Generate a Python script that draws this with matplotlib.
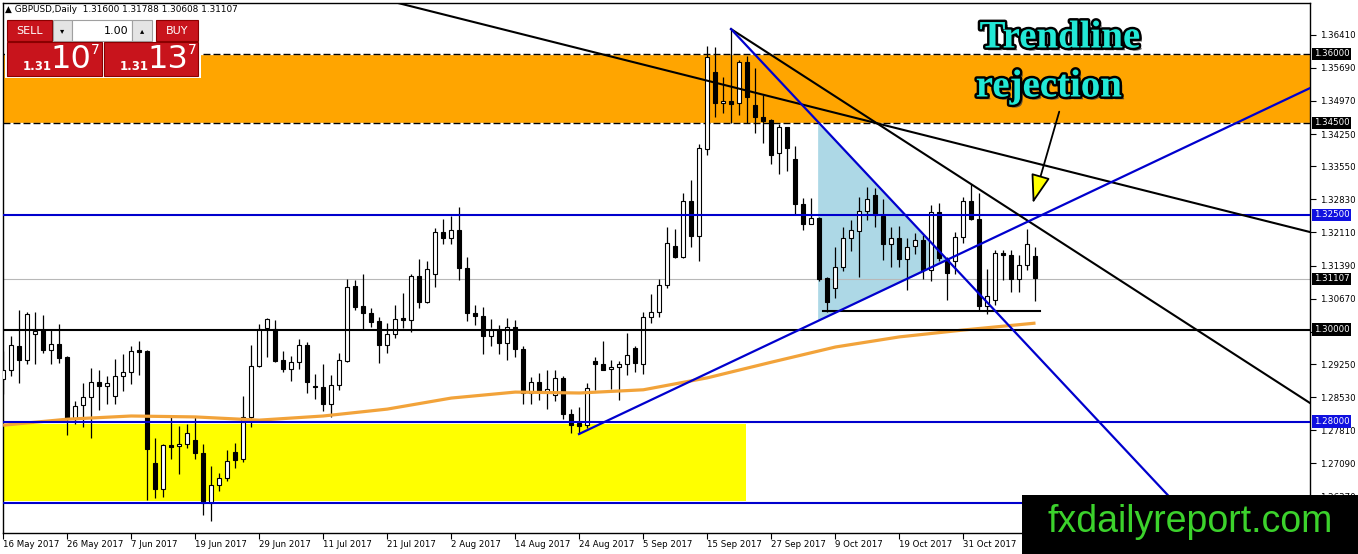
import matplotlib
matplotlib.use('Agg')
import matplotlib.pyplot as plt
import matplotlib.patheffects as pe
from matplotlib.patches import Rectangle, Polygon, FancyArrowPatch
from matplotlib.transforms import blended_transform_factory

W, H = 1358, 554

# ---------------- data (GBPUSD daily) ----------------
opens = [1.2892, 1.2912, 1.2964, 1.2934, 1.2991, 1.2998, 1.2956, 1.2969, 1.2940, 1.2805,
         1.2836, 1.2853, 1.2886, 1.2877, 1.2855, 1.2899, 1.2908, 1.2956, 1.2954, 1.2709,
         1.2653, 1.2748, 1.2746, 1.2751, 1.2760, 1.2731, 1.2623, 1.2663, 1.2677, 1.2733,
         1.2718, 1.2809, 1.2921, 1.3004, 1.3001, 1.2934, 1.2914, 1.2930, 1.2967, 1.2877,
         1.2876, 1.2839, 1.2879, 1.2932, 1.3095, 1.3052, 1.3036, 1.3018, 1.2967, 1.2991,
         1.3024, 1.3021, 1.3117, 1.3060, 1.3121, 1.3211, 1.3200, 1.3217, 1.3134, 1.3036,
         1.3029, 1.2985, 1.2998, 1.2970, 1.3006, 1.2957, 1.2863, 1.2885, 1.2865, 1.2858,
         1.2894, 1.2816, 1.2796, 1.2793, 1.2932, 1.2925, 1.2914, 1.2919, 1.2925, 1.2959,
         1.2925, 1.3027, 1.3038, 1.3096, 1.3181, 1.3158, 1.3279, 1.3203, 1.3392, 1.3561,
         1.3492, 1.3497, 1.3492, 1.3581, 1.3488, 1.3463, 1.3456, 1.3383, 1.3440, 1.3370,
         1.3274, 1.3230, 1.3243, 1.3112, 1.3091, 1.3136, 1.3200, 1.3214, 1.3258, 1.3292,
         1.3246, 1.3185, 1.3200, 1.3154, 1.3181, 1.3194, 1.3129, 1.3256, 1.3152, 1.3150,
         1.3201, 1.3279, 1.3241, 1.3052, 1.3065, 1.3167, 1.3163, 1.3110, 1.3141, 1.3160]
highs = [1.2954, 1.2987, 1.3043, 1.3038, 1.3038, 1.3031, 1.2998, 1.3011, 1.2943, 1.2845,
         1.2884, 1.2916, 1.2911, 1.2900, 1.2936, 1.2946, 1.2965, 1.2974, 1.2955, 1.2764,
         1.2751, 1.2812, 1.2791, 1.2794, 1.2810, 1.2752, 1.2703, 1.2687, 1.2738, 1.2753,
         1.2856, 1.2967, 1.3012, 1.3026, 1.3021, 1.2954, 1.2943, 1.2980, 1.2972, 1.2903,
         1.2924, 1.2902, 1.2949, 1.3110, 1.3108, 1.3121, 1.3047, 1.3028, 1.3014, 1.3054,
         1.3080, 1.3120, 1.3154, 1.3149, 1.3220, 1.3241, 1.3246, 1.3267, 1.3158, 1.3054,
         1.3049, 1.3023, 1.3009, 1.3025, 1.3020, 1.2965, 1.2896, 1.2905, 1.2912, 1.2912,
         1.2899, 1.2828, 1.2832, 1.2884, 1.2941, 1.2974, 1.2934, 1.2931, 1.2992, 1.2965,
         1.3039, 1.3078, 1.3110, 1.3222, 1.3219, 1.3297, 1.3326, 1.3403, 1.3616, 1.3614,
         1.3549, 1.3653, 1.3586, 1.3595, 1.3568, 1.3510, 1.3457, 1.3447, 1.3441, 1.3399,
         1.3286, 1.3287, 1.3245, 1.3115, 1.3179, 1.3222, 1.3239, 1.3288, 1.3310, 1.3307,
         1.3283, 1.3223, 1.3225, 1.3198, 1.3209, 1.3205, 1.3270, 1.3276, 1.3158, 1.3212,
         1.3289, 1.3316, 1.3296, 1.3132, 1.3174, 1.3174, 1.3174, 1.3161, 1.3219, 1.3179]
lows = [1.2860, 1.2900, 1.2883, 1.2924, 1.2925, 1.2948, 1.2924, 1.2927, 1.2770, 1.2794,
        1.2787, 1.2764, 1.2825, 1.2839, 1.2839, 1.2866, 1.2882, 1.2902, 1.2629, 1.2633,
        1.2636, 1.2718, 1.2685, 1.2743, 1.2718, 1.2597, 1.2584, 1.2649, 1.2671, 1.2700,
        1.2711, 1.2787, 1.2919, 1.2941, 1.2929, 1.2907, 1.2889, 1.2914, 1.2861, 1.2848,
        1.2823, 1.2809, 1.2868, 1.2929, 1.3043, 1.3001, 1.3005, 1.2927, 1.2948, 1.2982,
        1.3004, 1.2994, 1.3047, 1.3057, 1.3092, 1.3187, 1.3187, 1.3108, 1.3018, 1.3009,
        1.2947, 1.2964, 1.2947, 1.2934, 1.2940, 1.2839, 1.2838, 1.2847, 1.2827, 1.2845,
        1.2805, 1.2776, 1.2772, 1.2785, 1.2868, 1.2911, 1.2870, 1.2847, 1.2901, 1.2907,
        1.2903, 1.3014, 1.3027, 1.3091, 1.3156, 1.3156, 1.3179, 1.3150, 1.3379, 1.3463,
        1.3470, 1.3448, 1.3466, 1.3448, 1.3428, 1.3406, 1.3360, 1.3338, 1.3345, 1.3251,
        1.3217, 1.3229, 1.3105, 1.3038, 1.3069, 1.3127, 1.3171, 1.3115, 1.3238, 1.3223,
        1.3152, 1.3136, 1.3137, 1.3085, 1.3165, 1.3110, 1.3105, 1.3150, 1.3065, 1.3121,
        1.3188, 1.3239, 1.3040, 1.3034, 1.3054, 1.3107, 1.3081, 1.3081, 1.3129, 1.3061]
closes = [1.2912, 1.2967, 1.2934, 1.3033, 1.2996, 1.2956, 1.2969, 1.2938, 1.2805, 1.2833,
          1.2853, 1.2886, 1.2877, 1.2884, 1.2899, 1.2908, 1.2954, 1.2951, 1.2740, 1.2653,
          1.2748, 1.2744, 1.2751, 1.2774, 1.2731, 1.2623, 1.2663, 1.2677, 1.2714, 1.2716,
          1.2809, 1.2921, 1.3001, 1.3023, 1.2932, 1.2914, 1.2929, 1.2967, 1.2885, 1.2874,
          1.2839, 1.2879, 1.2934, 1.3092, 1.3049, 1.3036, 1.3016, 1.2967, 1.2991, 1.3023,
          1.3021, 1.3117, 1.3060, 1.3132, 1.3211, 1.3200, 1.3217, 1.3134, 1.3036, 1.3029,
          1.2985, 1.2998, 1.2970, 1.3005, 1.2957, 1.2863, 1.2885, 1.2865, 1.2870, 1.2894,
          1.2816, 1.2793, 1.2791, 1.2873, 1.2924, 1.2913, 1.2919, 1.2925, 1.2945, 1.2927,
          1.3027, 1.3038, 1.3096, 1.3188, 1.3158, 1.3279, 1.3203, 1.3394, 1.3592, 1.3492,
          1.3497, 1.3490, 1.3581, 1.3506, 1.3463, 1.3454, 1.3379, 1.3440, 1.3394, 1.3274,
          1.3230, 1.3243, 1.3110, 1.3059, 1.3136, 1.3200, 1.3217, 1.3258, 1.3283, 1.3249,
          1.3185, 1.3199, 1.3153, 1.3180, 1.3194, 1.3130, 1.3256, 1.3156, 1.3123, 1.3201,
          1.3279, 1.3241, 1.3052, 1.3072, 1.3167, 1.3163, 1.3110, 1.3141, 1.3187, 1.3111]

date_ticks = [0, 8, 16, 24, 32, 40, 48, 56, 64, 72, 80, 88, 96, 104, 112, 120]
date_labels = ["16 May 2017", "26 May 2017", "7 Jun 2017", "19 Jun 2017", "29 Jun 2017",
               "11 Jul 2017", "21 Jul 2017", "2 Aug 2017", "14 Aug 2017", "24 Aug 2017",
               "5 Sep 2017", "15 Sep 2017", "27 Sep 2017", "9 Oct 2017", "19 Oct 2017",
               "31 Oct 2017"]

ma_idx = [0, 8, 16, 24, 32, 40, 48, 56, 64, 72, 80, 88, 96, 104, 112, 120, 129]
ma_vals = [1.2792, 1.2805, 1.2812, 1.2810, 1.2803, 1.2812, 1.2827, 1.2851, 1.2864, 1.2862,
           1.2869, 1.2895, 1.2929, 1.2962, 1.2984, 1.2999, 1.3014]

ytick_vals = [1.36410, 1.35690, 1.34970, 1.34250, 1.33550, 1.32830, 1.32110, 1.31390,
              1.30670, 1.29950, 1.29250, 1.28530, 1.27810, 1.27090, 1.26370]
ytick_hidden = [1.29950]   # covered by the 1.30000 price tag in the reference

# levels / zones / drawings
supply_zone = (1.3450, 1.3600)
demand_zone = (1.2627, 1.2795)
demand_zone_end = 92.8
blue_levels = [1.3250, 1.2800, 1.2623]
black_level = 1.3000
last_price = 1.31107
support_short = (102.5, 129.6, 1.3040)
triangle_x = [101.84, 101.84, 117.96]
triangle_y = [1.3451, 1.3018, 1.3149]
tl_black1 = ([49.34, 163.3], [1.3710, 1.3212])
tl_black2 = ([90.96, 163.3], [1.36533, 1.28402])
tl_blue_down = ([90.96, 150.0], [1.36533, 1.2557])
tl_blue_up = ([71.96, 163.3], [1.27728, 1.3525])
price_tags = [(1.3600, "1.36000", "black"), (1.3450, "1.34500", "black"),
              (1.3250, "1.32500", "#1010E0"), (1.31107, "1.31107", "black"),
              (1.3000, "1.30000", "black"), (1.2800, "1.28000", "#1010E0")]

# ---------------- figure ----------------
fig = plt.figure(figsize=(W / 100, H / 100), dpi=100)
fig.patch.set_facecolor('white')
ax = fig.add_axes([2.7 / W, (H - 533) / H, (1310 - 2.7) / W, (533 - 3) / H])
ax.set_xlim(-0.05, 163.3)
ax.set_ylim(1.25576, 1.3710)

BLUE = '#0000CD'
# zones
ax.add_patch(Rectangle((-5, supply_zone[0]), 200, supply_zone[1] - supply_zone[0],
                       fc='#FFA500', ec='none', zorder=1))
ax.add_patch(Rectangle((-5, demand_zone[0]), demand_zone_end + 5, demand_zone[1] - demand_zone[0],
                       fc='#FFFF00', ec='none', zorder=1))
ax.add_patch(Polygon(list(zip(triangle_x, triangle_y)), closed=True, fc='#ADD8E6', ec='none', zorder=1))

# dashed zone borders
for lv in supply_zone:
    ax.axhline(lv, color='white', lw=0.9, zorder=1.5)
    ax.axhline(lv, color='black', lw=1.0, ls=(0, (5, 2.2)), zorder=1.6)

ax.axhline(last_price, color='#b8b8b8', lw=0.8, zorder=1.7)

# candles
n = len(opens)
for i in range(n):
    o, h, l, c = opens[i], highs[i], lows[i], closes[i]
    ax.vlines(i, l, h, color='black', lw=0.9, zorder=3)
    bot = min(o, c)
    ht = max(abs(c - o), 0.00003)
    fc = 'white' if c >= o else 'black'
    ax.add_patch(Rectangle((i - 0.25, bot), 0.5, ht, fc=fc, ec='black', lw=0.8, zorder=4))

# moving average
ax.plot(ma_idx, ma_vals, color='#F2A33A', lw=2.3, zorder=5, solid_capstyle='butt')

# horizontal levels
for lv in blue_levels:
    ax.axhline(lv, color=BLUE, lw=1.5, zorder=6)
ax.axhline(black_level, color='black', lw=1.5, zorder=6)
ax.plot(support_short[:2], [support_short[2]] * 2, color='black', lw=1.5, zorder=6)

# trendlines
ax.plot(*tl_black1, color='black', lw=1.5, zorder=7)
ax.plot(*tl_black2, color='black', lw=1.5, zorder=7)
ax.plot(*tl_blue_down, color=BLUE, lw=1.6, zorder=7)
ax.plot(*tl_blue_up, color=BLUE, lw=1.6, zorder=7)

# axes styling
for s in ax.spines.values():
    s.set_color('black')
    s.set_linewidth(1.0)
ax.yaxis.tick_right()
ax.set_yticks(ytick_vals)
ax.set_yticklabels(["" if v in ytick_hidden else "%.5f" % v for v in ytick_vals])
ax.tick_params(axis='y', length=4, width=0.8, pad=3, labelsize=6.2, colors='black')
ax.set_xticks(date_ticks)
ax.set_xticklabels(date_labels, ha='left')
ax.tick_params(axis='x', length=4, width=0.8, pad=1, labelsize=6.2, colors='black')

# price tags on right axis
trans = blended_transform_factory(ax.transAxes, ax.transData)
for v, s, col in price_tags:
    ax.text(1.0 + 4 / 1307.3, v, s, transform=trans, ha='left', va='center', fontsize=6.2,
            color='white', zorder=20, clip_on=False,
            bbox=dict(boxstyle='square,pad=0.18', fc=col, ec='none'))


# ---------------- overlays in figure pixels ----------------
def frect(x0, y0, x1, y1, **kw):
    fig.add_artist(Rectangle((x0 / W, 1 - y1 / H), (x1 - x0) / W, (y1 - y0) / H,
                             transform=fig.transFigure, **kw))


def ftext(x, y, s, **kw):
    fig.text(x / W, 1 - y / H, s, **kw)


# header
ftext(5, 10, "\u25b2 GBPUSD,Daily  1.31600 1.31788 1.30608 1.31107", fontsize=6.4,
      va='center', ha='left', color='black')

RED = '#C8141C'
frect(5, 18, 201, 78, fc='white', ec='none', zorder=10)
frect(7, 20, 52, 41, fc=RED, ec='#8a0000', lw=0.8, zorder=11)
ftext(29.5, 30.5, "SELL", fontsize=8, color='white', ha='center', va='center', zorder=12)
frect(53, 20, 72, 41, fc='#e4e4e4', ec='#a0a0a0', lw=0.8, zorder=11)
frect(72, 20, 132, 41, fc='white', ec='#a0a0a0', lw=0.8, zorder=11)
frect(132, 20, 152, 41, fc='#e4e4e4', ec='#a0a0a0', lw=0.8, zorder=11)
ftext(62.5, 31, "\u25be", fontsize=6, color='black', ha='center', va='center', zorder=12)
ftext(142, 31, "\u25b4", fontsize=6, color='black', ha='center', va='center', zorder=12)
ftext(128, 30.5, "1.00", fontsize=8, color='black', ha='right', va='center', zorder=12)
frect(156, 20, 198, 41, fc=RED, ec='#8a0000', lw=0.8, zorder=11)
ftext(177, 30.5, "BUY", fontsize=8, color='white', ha='center', va='center', zorder=12)
frect(7, 42, 102, 76, fc=RED, ec='#8a0000', lw=0.8, zorder=11)
frect(104, 42, 198, 76, fc=RED, ec='#8a0000', lw=0.8, zorder=11)
for bx, big in [(7, "10"), (104, "13")]:
    ftext(bx + 30, 66, "1.31", fontsize=8.5, color='white', ha='center', va='center',
          fontweight='bold', zorder=12)
    ftext(bx + 64, 60, big, fontsize=23, color='white', ha='center', va='center', zorder=12)
    ftext(bx + 88, 50, "7", fontsize=10, color='white', ha='center', va='center', zorder=12)

# annotation text
txt_fx = [pe.withSimplePatchShadow(offset=(2, -2), shadow_rgbFace='#404040', alpha=0.8),
          pe.withStroke(linewidth=3.5, foreground='black')]
ftext(1060, 38, "Trendline", fontsize=28, family='Liberation Serif', fontweight='bold',
      color='#22E8D6', ha='center', va='center', zorder=30, path_effects=txt_fx)
ftext(1049, 87, "rejection", fontsize=28, family='Liberation Serif', fontweight='bold',
      color='#22E8D6', ha='center', va='center', zorder=30, path_effects=txt_fx)

arr = FancyArrowPatch(posA=(1060 / W, 1 - 109 / H), posB=(1032 / W, 1 - 206 / H),
                      transform=fig.transFigure,
                      arrowstyle='-|>,head_length=0.9,head_width=0.3', mutation_scale=20,
                      fc='#FFFF00', ec='black', lw=1.3, zorder=30)
fig.add_artist(arr)

# watermark
frect(1022, 495, 1358, 554, fc='black', ec='none', zorder=40)
ftext(1190, 522, "fxdailyreport.com", fontsize=27, family='Liberation Sans', color='#3CD22C',
      ha='center', va='center', zorder=41)

fig.savefig('out.png', dpi=100)
